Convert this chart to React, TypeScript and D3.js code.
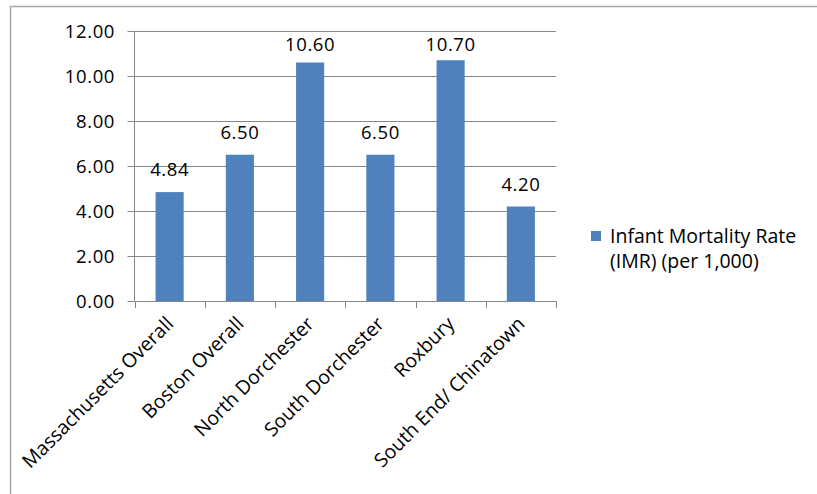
import React, { useEffect, useRef } from "react";
import * as d3 from "d3";

const categories = [
  "Massachusetts Overall",
  "Boston Overall",
  "North Dorchester",
  "South Dorchester",
  "Roxbury",
  "South End/ Chinatown",
];
const imrValues = [4.84, 6.5, 10.6, 6.5, 10.7, 4.2];
const yTicks = [0, 2, 4, 6, 8, 10, 12];
const seriesName = ["Infant Mortality Rate", "(IMR) (per 1,000)"];

const W = 817;
const H = 494;
const FONT = "'Open Sans', 'Noto Sans', sans-serif";
const BAR = "#4f81bd";
const GRID = "#868686";

export default function App() {
  const ref = useRef<SVGSVGElement>(null);
  useEffect(() => {
    const svg = d3.select(ref.current!);
    svg.selectAll("*").remove();

    const left = 134.5, right = 556, top = 31, bottom = 301;
    const x = d3.scaleBand().domain(categories).range([left, right]).paddingInner(0.6).paddingOuter(0.3);
    const xb = d3.scaleBand().domain(categories).range([left, right]);
    const y = d3.scaleLinear().domain([0, 12]).range([bottom, top]);

    svg.append("rect").attr("width", W).attr("height", H).attr("fill", "#fff");
    svg.append("rect").attr("x", 10.5).attr("y", 6.5).attr("width", W + 20).attr("height", H + 20)
      .attr("fill", "none").attr("stroke", "#a6a6a6").attr("stroke-width", 1.5);

    // gridlines
    svg.append("g").selectAll("line").data(yTicks.filter((t) => t > 0)).join("line")
      .attr("x1", left).attr("x2", right)
      .attr("y1", (d) => Math.round(y(d)) + 0.5).attr("y2", (d) => Math.round(y(d)) + 0.5)
      .attr("stroke", GRID).attr("stroke-width", 1);

    // y axis
    svg.append("line").attr("x1", left).attr("x2", left).attr("y1", top).attr("y2", bottom)
      .attr("stroke", GRID);
    svg.append("g").selectAll("line").data(yTicks).join("line")
      .attr("x1", left - 7).attr("x2", left)
      .attr("y1", (d) => Math.round(y(d)) + 0.5).attr("y2", (d) => Math.round(y(d)) + 0.5)
      .attr("stroke", GRID);
    svg.append("g").selectAll("text").data(yTicks).join("text")
      .attr("x", 115).attr("y", (d) => y(d) + 6.5)
      .attr("text-anchor", "end")
      .style("font-family", FONT).style("font-size", "18.5px").style("letter-spacing", "0.6px")
      .attr("fill", "#000")
      .text((d) => d3.format(".2f")(d));

    // bars
    svg.append("g").selectAll("rect").data(imrValues).join("rect")
      .attr("x", (_d, i) => x(categories[i])!)
      .attr("width", x.bandwidth())
      .attr("y", (d) => y(d))
      .attr("height", (d) => bottom - y(d))
      .attr("fill", BAR);

    // data labels
    svg.append("g").selectAll("text").data(imrValues).join("text")
      .attr("x", (_d, i) => x(categories[i])! + x.bandwidth() / 2)
      .attr("y", (d) => Math.max(y(d) - 16, top + 20))
      .attr("text-anchor", "middle")
      .style("font-family", FONT).style("font-size", "18.5px").style("letter-spacing", "0.6px")
      .attr("fill", "#000")
      .text((d) => d3.format(".2f")(d));

    // x axis
    svg.append("line").attr("x1", left).attr("x2", right).attr("y1", bottom + 0.5).attr("y2", bottom + 0.5)
      .attr("stroke", GRID);
    const bounds = categories.map((c) => xb(c)!).concat([right]);
    svg.append("g").selectAll("line").data(bounds).join("line")
      .attr("x1", (d) => Math.round(d) + 0.5).attr("x2", (d) => Math.round(d) + 0.5)
      .attr("y1", bottom).attr("y2", bottom + 7)
      .attr("stroke", GRID);

    svg.append("g").selectAll("text").data(categories).join("text")
      .attr("transform", (c) => {
        const cx = xb(c)! + xb.bandwidth() / 2 + 5;
        return `translate(${cx},${bottom + 24}) rotate(-45)`;
      })
      .attr("text-anchor", "end")
      .style("font-family", FONT).style("font-size", "19.5px")
      .attr("fill", "#000")
      .text((c) => c);

    // legend
    svg.append("rect").attr("x", 591).attr("y", 231).attr("width", 10).attr("height", 10).attr("fill", BAR);
    svg.append("g").selectAll("text").data(seriesName).join("text")
      .attr("x", 610).attr("y", (_d, i) => 243 + i * 25)
      .style("font-family", FONT).style("font-size", "19.5px")
      .attr("fill", "#000")
      .text((d) => d);
  }, []);

  return (
    <svg ref={ref} width={W} height={H} style={{ position: "absolute", left: 0, top: 0, display: "block" }} />
  );
}
